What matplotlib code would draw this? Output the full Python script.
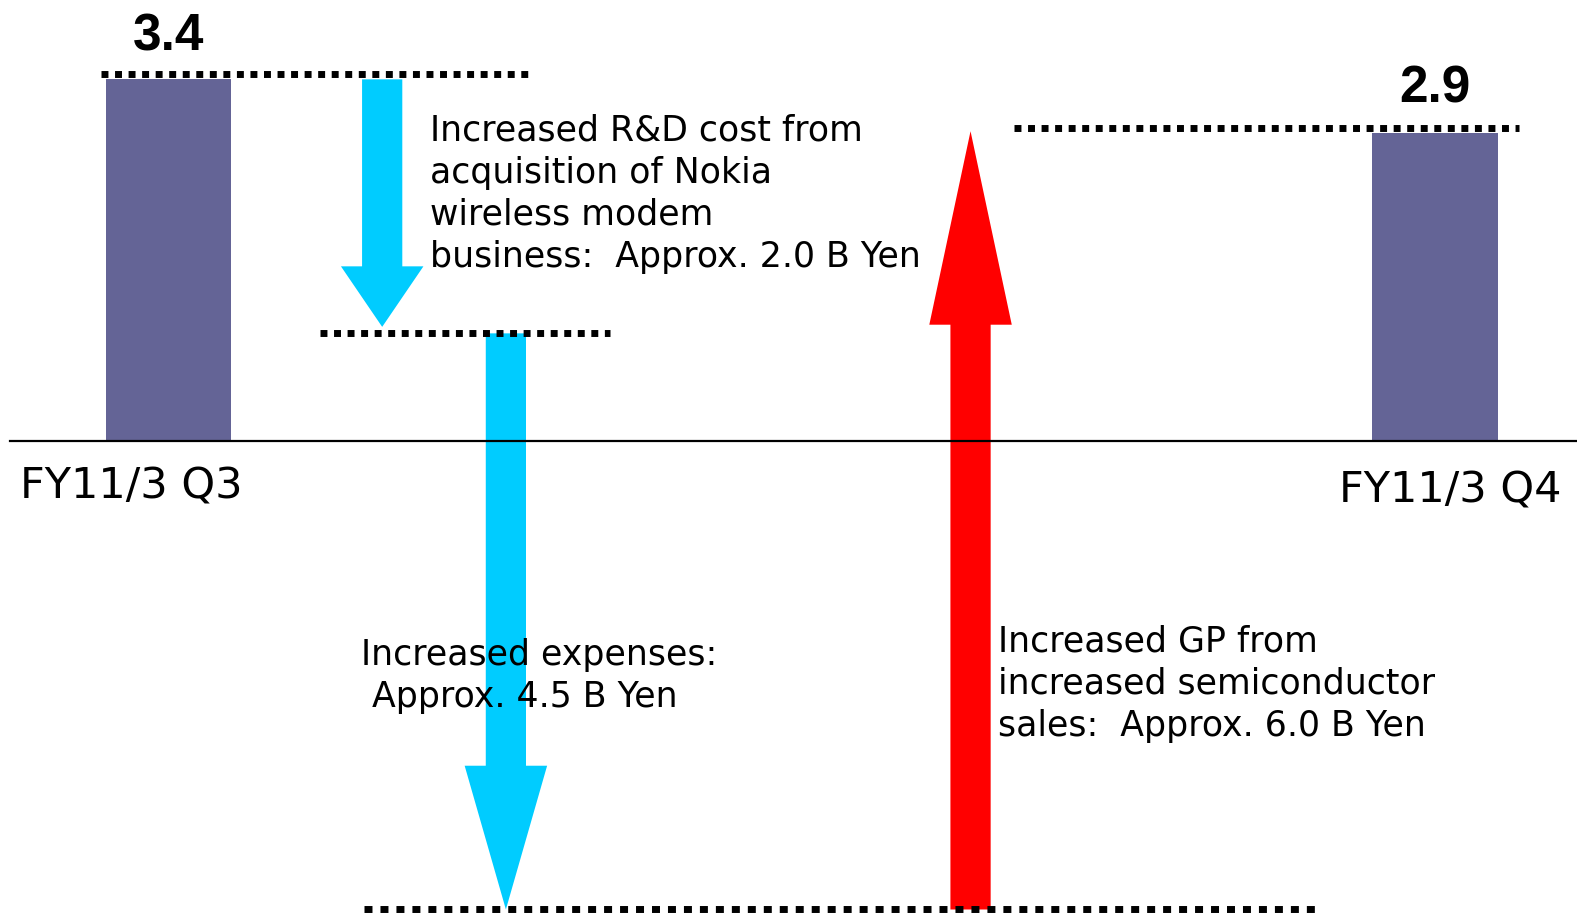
import matplotlib
matplotlib.use('Agg')
import matplotlib.pyplot as plt
from matplotlib.patches import FancyArrow

###############################################################################
# Data
###############################################################################
periods = ['FY11/3 Q3', 'FY11/3 Q4']
profits = [3.4, 2.9]
# levels reached after each step, as drawn on the slide (not to scale)
stepLevels = [3.4, 1.0, -4.33, 2.9]
stepNotes = [
    'Increased R&D cost from\nacquisition of Nokia\nwireless modem\nbusiness:  Approx. 2.0 B Yen',
    'Increased expenses:\n Approx. 4.5 B Yen',
    'Increased GP from\nincreased semiconductor\nsales:  Approx. 6.0 B Yen',
]

###############################################################################
# Style
###############################################################################
(BAR, DOWN, UP) = ('#646496', '#00CCFF', '#FF0000')
FONT = 'DejaVu Sans'
GAP = 0.05

fig = plt.figure(figsize=(15.77, 9.15), dpi=100)
ax = fig.add_axes([0, 0, 1, 1])
ax.set_xlim(0, 1568)
ax.set_ylim(-4.381, 4.084)
ax.axis('off')

# bars
barX = [167.5, 1427]
ax.bar(barX, [p - GAP for p in profits], width=125, color=BAR, zorder=2)
for (x, p, dy) in zip(barX, profits, [0.22, 0.24]):
    ax.text(x, p + dy, '{:.1f}'.format(p), ha='center', va='baseline',
            fontsize=37, fontweight='bold', family='Liberation Sans')

# baseline
ax.plot([10, 1568], [0, 0], color='black', lw=1.6, zorder=3)

# period labels
ax.text(20, -0.53, periods[0], ha='left', va='baseline', fontsize=31,
        family=FONT)
ax.text(1553, -0.565, periods[1], ha='right', va='baseline', fontsize=31,
        family=FONT)

# dotted level lines
dotSpans = [(100, 530), (318, 607), (362, 1310), (1008, 1510)]
dotDash = [(1.0, 0.95), (1.0, 0.95), (1.15, 1.15), (1.0, 0.95)]
for (lvl, (x0, x1), dd) in zip(stepLevels, dotSpans, dotDash):
    ax.plot([x0, x1], [lvl, lvl], color='black', lw=5,
            linestyle=(0, dd), solid_capstyle='butt',
            dash_capstyle='butt', zorder=4)

# arrows
arrowX = [380, 503, 965]
arrowCol = [DOWN, DOWN, UP]
headLen = [0.56, 1.33, 1.79]
starts = [stepLevels[0] - GAP, stepLevels[1], stepLevels[2]]
ends = [stepLevels[1] + 0.06, stepLevels[2], stepLevels[3] - 0.03]
for (x, y0, y1, c, hl) in zip(arrowX, starts, ends, arrowCol, headLen):
    ax.add_patch(FancyArrow(x, y0, 0, y1 - y0, width=40, head_width=82,
                            head_length=hl, length_includes_head=True,
                            color=c, lw=0, zorder=1))

# notes
ax.text(428, 2.29, stepNotes[0], ha='left', va='center', fontsize=25,
        family=FONT, linespacing=1.3, zorder=5)
ax.text(359, -2.17, stepNotes[1], ha='left', va='center', fontsize=25,
        family=FONT, linespacing=1.3, zorder=5)
ax.text(992, -2.24, stepNotes[2], ha='left', va='center', fontsize=25,
        family=FONT, linespacing=1.3, zorder=5)

fig.savefig('out.png', dpi=100)
